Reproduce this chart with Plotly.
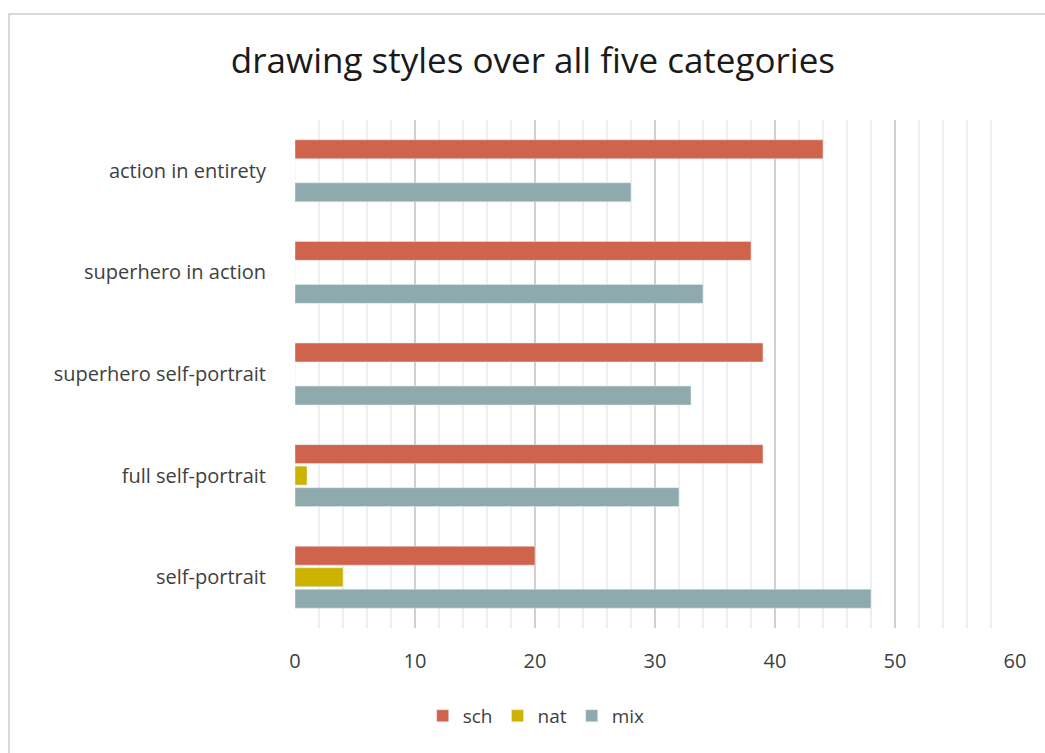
import plotly.graph_objects as go

# Categories listed bottom to top
categories = ["self-portrait", "full self-portrait", "superhero self-portrait",
              "superhero in action", "action in entirety"]
sch = [20, 39, 39, 38, 44]
nat = [4, 1, 0, 0, 0]
mix = [48, 32, 33, 34, 28]
x_ticks = [0, 10, 20, 30, 40, 50, 60]

FONT = "Open Sans"
TEXT = "#404040"

fig = go.Figure()
# Horizontal groups stack the first trace lowest, so add mix first
fig.add_trace(go.Bar(name="mix", y=categories, x=mix, orientation="h",
                     marker=dict(color="#8FAAAD")))
fig.add_trace(go.Bar(name="nat", y=categories, x=nat, orientation="h",
                     marker=dict(color="#CBB300")))
fig.add_trace(go.Bar(name="sch", y=categories, x=sch, orientation="h",
                     marker=dict(color="#D0634B")))

fig.update_layout(
    width=1045, height=753,
    margin=dict(l=295, r=30, t=120, b=125),
    paper_bgcolor="white", plot_bgcolor="white",
    barmode="group", bargap=0.365, bargroupgap=0.12,
    title=dict(text="drawing styles over all five categories",
               x=0.51, xanchor="center", y=1 - 61 / 753, yanchor="middle",
               font=dict(family=FONT, size=35, color="#1a1a1a")),
    legend=dict(orientation="h", traceorder="reversed",
                x=0.335, xanchor="center", y=-0.173, yanchor="middle",
                font=dict(family=FONT, size=19, color=TEXT),
                itemwidth=30),
    font=dict(family=FONT, color=TEXT),
    showlegend=True,
)

fig.update_xaxes(
    range=[0, 60], tickvals=x_ticks,
    showgrid=True, gridcolor="#d0d0d0", gridwidth=2,
    minor=dict(dtick=2, showgrid=True, gridcolor="#efefef", gridwidth=2),
    zeroline=False, showline=False,
    ticks="outside", ticklen=15, tickcolor="rgba(0,0,0,0)",
    tickfont=dict(family=FONT, size=20, color=TEXT),
)
fig.update_yaxes(
    showgrid=False, zeroline=False, showline=False,
    ticks="outside", ticklen=24, tickcolor="rgba(0,0,0,0)",
    tickfont=dict(family=FONT, size=20, color=TEXT),
)

# Light frame around the chart area
fig.add_shape(type="rect", xref="paper", yref="paper",
              x0=(9 - 295) / 720, x1=1.2, y0=-0.4, y1=(628 - 14) / 508,
              line=dict(color="#d9d9d9", width=2), fillcolor="rgba(0,0,0,0)",
              layer="below")

fig.write_html("out.html")
